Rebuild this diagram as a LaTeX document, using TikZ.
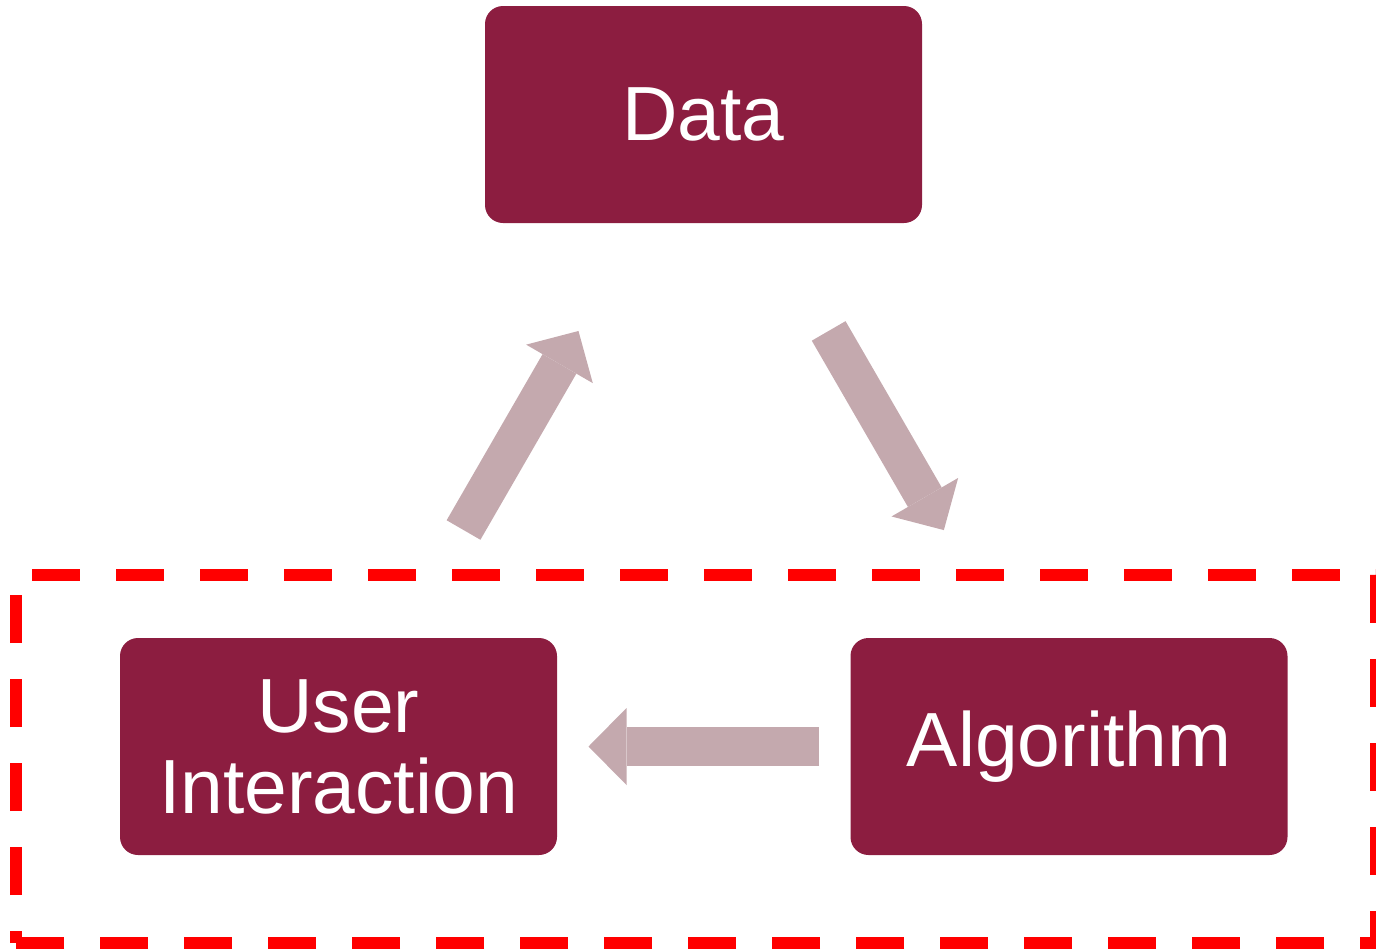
\documentclass[tikz,border=0pt]{standalone}
\usepackage{fontspec}
\setmainfont{Liberation Sans}
\usetikzlibrary{arrows.meta}

\definecolor{maroon}{HTML}{8C1D40}
\definecolor{mauve}{HTML}{C4A9AE}
\definecolor{framered}{HTML}{FF0000}

\begin{document}
\begin{tikzpicture}[x=0.5pt, y=-0.5pt, inner sep=0pt, outer sep=0pt,
  block/.style={fill=maroon, rounded corners=9pt, minimum width=218.5pt, minimum height=108.5pt,
    text=white, align=center, font=\fontsize{38.4}{40.5}\selectfont},
  flow/.style={draw=mauve, line width=19.5pt, shorten <=125pt, shorten >=125pt,
    -{Triangle[width=38.5pt, length=19pt, line width=0pt]}}]

  \clip (0,0) rectangle (1376,948);

  \node[block] (data) at (703.5,114.5) {Data};
  \node[block] (user) at (338.5,746.5) {User\\Interaction};
  \node[block] (algo) at (1069,746.5) {Algorithm};

  % cycle arrows
  \draw[flow] (user.center) -- (data.center);
  \draw[flow] (data.center) -- (algo.center);
  \draw[flow] (algo.center) -- (user.center);

  % dashed frame round the lower pair
  \path[draw=framered, line width=6pt, dash pattern=on 24pt off 18pt, dash phase=18pt]
    (16,943) -- (16,575) -- (1376,575) -- (1376,943) -- cycle;

\end{tikzpicture}
\end{document}
